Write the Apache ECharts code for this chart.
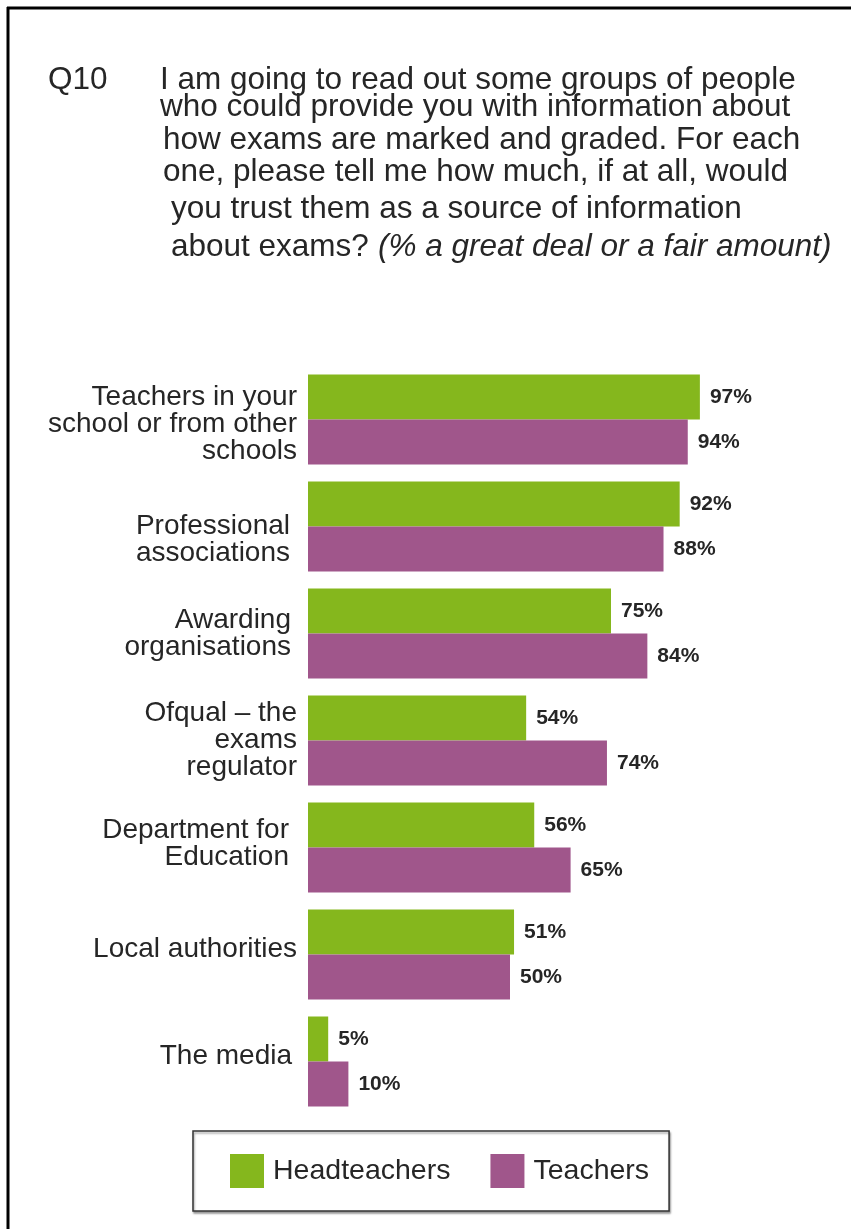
<!DOCTYPE html>
<html>
<head>
<meta charset="utf-8">
<script src="https://cdn.jsdelivr.net/npm/echarts@6/dist/echarts.min.js"></script>
<style>
  html, body { margin: 0; padding: 0; background: #fff; }
  #chart { width: 851px; height: 1229px; }
</style>
</head>
<body>
<div id="chart"></div>
<script>
// Trusted sources of information about exams (% a great deal or a fair amount)
const categories = [
  'Teachers in your\nschool or from other\nschools',
  'Professional\nassociations',
  'Awarding\norganisations',
  'Ofqual \u2013 the\nexams\nregulator',
  'Department for\nEducation',
  'Local authorities',
  'The media'
];
const headteachers = [97, 92, 75, 54, 56, 51, 5];
const teachers = [94, 88, 84, 74, 65, 50, 10];
const seriesNames = ['Headteachers', 'Teachers'];

const questionLines = [
  'I am going to read out some groups of people',
  'who could provide you with information about',
  'how exams are marked and graded. For each',
  'one, please tell me how much, if at all, would',
  'you trust them as a source of information',
  'about exams?'
];
const questionNote = '(% a great deal or a fair amount)';

const FONT = '"Liberation Sans", Arial, Helvetica, sans-serif';
const GREEN = '#85b71d';
const PURPLE = '#a0568b';
const TEXT = '#262626';
const Q_SIZE = 31.5;

const chart = echarts.init(document.getElementById('chart'), null, { renderer: 'canvas' });

// question block: each line sits on its own row, the last two indented
const lineX = [160, 160, 163, 163, 171, 171];
const lineY = [96, 123, 156, 188, 225, 263];
function qText(x, y, text, italic) {
  return {
    type: 'text', x: x, y: y,
    style: {
      text: text,
      font: (italic ? 'italic ' : '') + Q_SIZE + 'px ' + FONT,
      fill: TEXT,
      verticalAlign: 'bottom'
    }
  };
}
const questionGraphics = [qText(48, 96, 'Q10', false)];
questionLines.forEach((t, i) => questionGraphics.push(qText(lineX[i], lineY[i], t, false)));
questionGraphics.push(qText(378, lineY[5], questionNote, true));

// caption nudges: extra space above (+) or below (-) each block, and right inset
const captionShift = [10, 26, 0, 0, -8, -10, -10];
const captionInset = [0, 7, 6, 0, 8, 0, 5];
const categoryItems = categories.map((c, i) => ({
  value: c,
  textStyle: { padding: [0, captionInset[i], 0, 0] }
}));
const spacerStyles = {};
captionShift.forEach(s => {
  if (s !== 0) spacerStyles['s' + Math.abs(s)] = { fontSize: 1, lineHeight: Math.abs(s) };
});

const valueLabel = {
  show: true, position: 'right', distance: 10,
  formatter: '{c}%', fontSize: 21, fontWeight: 'bold', color: TEXT, fontFamily: FONT
};

const option = {
  backgroundColor: '#fff',
  animation: false,
  textStyle: { fontFamily: FONT },
  graphic: [
    // frame: top and left rules
    { type: 'line', shape: { x1: 7, y1: 8, x2: 851, y2: 8 }, style: { stroke: '#000', lineWidth: 3 } },
    { type: 'line', shape: { x1: 8, y1: 7, x2: 8, y2: 1229 }, style: { stroke: '#000', lineWidth: 3 } }
  ].concat(questionGraphics),
  legend: {
    data: seriesNames,
    left: 193,
    top: 1131,
    orient: 'horizontal',
    itemWidth: 34,
    itemHeight: 34,
    itemGap: 40,
    padding: [23, 20, 23, 37],
    borderColor: '#333',
    borderWidth: 1.5,
    backgroundColor: '#fff',
    shadowColor: 'rgba(0,0,0,0.35)',
    shadowBlur: 2,
    shadowOffsetX: 1,
    shadowOffsetY: 2,
    icon: 'rect',
    textStyle: { fontSize: 28.5, color: TEXT, fontFamily: FONT, padding: [0, 0, 0, 4] }
  },
  grid: {
    left: 308,
    top: 366,
    width: 404,
    height: 749,
    containLabel: false
  },
  xAxis: {
    type: 'value',
    min: 0,
    max: 100,
    show: false
  },
  yAxis: {
    type: 'category',
    data: categoryItems,
    inverse: true,
    axisLine: { show: false },
    axisTick: { show: false },
    splitLine: { show: false },
    axisLabel: {
      fontSize: 28,
      lineHeight: 27,
      color: TEXT,
      fontFamily: FONT,
      margin: 11,
      align: 'right',
      formatter: function (value, index) {
        const lines = value.split('\n').map(l => '{t|' + l + '}');
        const s = captionShift[index];
        if (s > 0) lines.unshift('{s' + s + '| }');
        if (s < 0) lines.push('{s' + (-s) + '| }');
        return lines.join('\n');
      },
      rich: Object.assign({
        t: { fontSize: 28, lineHeight: 27, color: TEXT, fontFamily: FONT }
      }, spacerStyles)
    }
  },
  series: [
    {
      name: seriesNames[0],
      type: 'bar',
      data: headteachers,
      barWidth: 45,
      barGap: '0%',
      itemStyle: { color: GREEN },
      label: valueLabel
    },
    {
      name: seriesNames[1],
      type: 'bar',
      data: teachers,
      barWidth: 45,
      barGap: '0%',
      itemStyle: { color: PURPLE },
      label: valueLabel
    }
  ]
};

chart.setOption(option);
</script>
</body>
</html>
